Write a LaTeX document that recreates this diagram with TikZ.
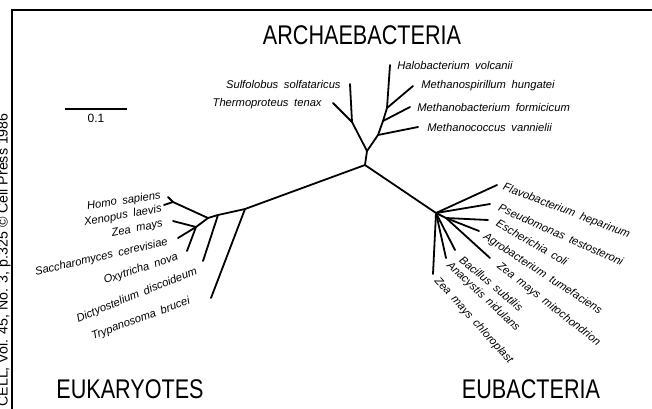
\documentclass[tikz,border=0pt]{standalone}
\usepackage{fontspec}
\setsansfont{Liberation Sans}
\newfontfamily\kingfont{Liberation Sans}[FakeStretch=0.8]
\newfontfamily\spfont{Liberation Sans}[WordSpace=1.8]
\usetikzlibrary{calc}
\tikzset{
  branch/.style={line width=0.9pt, line cap=round, line join=round},
  sp/.style={font=\spfont\itshape\fontsize{5.6}{6}\selectfont, inner sep=0pt},
  kingdom/.style={font=\kingfont\fontsize{13.5}{15}\selectfont, inner sep=0pt}
}

\begin{document}
\begin{tikzpicture}[x=0.5pt,y=-0.5pt]
  \useasboundingbox (0,0) rectangle (652,408);
  \clip (0,0) rectangle (652,408);
  \draw[line width=1pt] (12,412) -- (12,10) -- (660,10);
  \node[rotate=90, anchor=base west, inner sep=0pt, font=\sffamily\fontsize{7.1}{8}\selectfont] (cite) at (7.5,407) {CELL, Vol. 45, No. 3, p.325 \textcopyright\ Cell Press 1986};
  \draw[line width=0.8pt] (65,109) -- (127,109) node[midway, below=2pt, inner sep=0pt, font=\sffamily\fontsize{6}{7}\selectfont] (scale) {0.1};
  \node[kingdom] (arch) at (362,35) {ARCHAEBACTERIA};
  \node[kingdom] (euk) at (130,389) {EUKARYOTES};
  \node[kingdom] (eub) at (531,389) {EUBACTERIA};
  \coordinate (root) at (365,165);
  \coordinate (a0) at (367,151);
  \coordinate (a1) at (352,122);
  \coordinate (a2) at (378,135);
  \coordinate (a3) at (383,121);
  \coordinate (a4) at (387,108);
  \coordinate (sulf) at (350,84);
  \coordinate (therm) at (333,103);
  \coordinate (mcoc) at (418,127);
  \coordinate (mbac) at (410,107);
  \coordinate (mspi) at (413,86);
  \coordinate (halo) at (390,65);
  \coordinate (e1) at (245,209);
  \coordinate (e2) at (218,215);
  \coordinate (e3) at (208,218);
  \coordinate (e4) at (173,202);
  \coordinate (e5) at (196,227);
  \coordinate (homo) at (168,197);
  \coordinate (xeno) at (164,205);
  \coordinate (zea) at (173,221);
  \coordinate (sacc) at (178,238);
  \coordinate (oxy) at (187,251);
  \coordinate (dict) at (203,261);
  \coordinate (tryp) at (211,298);
  \coordinate (b0) at (436,213);
  \coordinate (b1) at (446,218);
  \coordinate (flavo) at (497,185);
  \coordinate (pseudo) at (490,204);
  \coordinate (esch) at (488,220);
  \coordinate (agro) at (479,231);
  \coordinate (zmito) at (490,258);
  \coordinate (bac) at (455,250);
  \coordinate (ana) at (446,258);
  \coordinate (chlo) at (433,274);
  \draw[branch] (root) -- (a0) -- (a1) -- (sulf);
  \draw[branch] (a1) -- (therm);
  \draw[branch] (a0) -- (a2) -- (a3) -- (a4) -- (halo);
  \draw[branch] (a2) -- (mcoc);
  \draw[branch] (a3) -- (mbac);
  \draw[branch] (a4) -- (mspi);
  \draw[branch] (root) -- (e1) -- (e2) -- (e3) -- (e4) -- (homo);
  \draw[branch] (e4) -- (xeno);
  \draw[branch] (e3) -- (e5) -- (zea);
  \foreach \n in {sacc,oxy} \draw[branch] (e5) -- (\n);
  \draw[branch] (e2) -- (dict);
  \draw[branch] (e1) -- (tryp);
  \draw[branch] (root) -- (b0) -- (b1);
  \foreach \n in {flavo,pseudo,bac,ana,chlo} \draw[branch] (b0) -- (\n);
  \foreach \n in {esch,agro,zmito} \draw[branch] (b1) -- (\n);
  \foreach \n/\x/\y/\t in {lhalo/397/65/Halobacterium volcanii, lmspi/421/86/Methanospirillum hungatei, lmbac/417/107/Methanobacterium formicicum, lmcoc/427/127/Methanococcus vannielii}
    \node[sp, anchor=west] (\n) at (\x,\y) {\t};
  \node[sp, anchor=east] (lsulf) at (341,84) {Sulfolobus solfataricus};
  \node[sp, anchor=east] (ltherm) at (322,104) {Thermoproteus tenax};
  \foreach \n/\x/\y/\a/\t in {lhomo/161/196/8/Homo sapiens, lxeno/162/209/10/Xenopus laevis, lzea/163/224/11/Zea mays, lsacc/168/242/13/Saccharomyces cerevisiae, loxy/178/257/18/Oxytricha nova, ldict/197/271/22/Dictyostelium discoideum, ltryp/190/301/20/Trypanosoma brucei}
    \node[sp, anchor=east, rotate=\a] (\n) at (\x,\y) {\t};
  \foreach \n/\x/\y/\a/\t in {lflavo/503/187/-21/Flavobacterium heparinum, lpseudo/499/207/-24/Pseudomonas testosteroni, lesch/497/222/-30/Escherichia coli, lagro/484/236/-33/Agrobacterium tumefaciens, lzmito/498/265/-38/Zea mays mitochondrion, lbac/461/258/-40/Bacillus subtilis, lana/448/264/-43/Anacystis nidulans, lchlo/436/279/-48/Zea mays chloroplast}
    \node[sp, anchor=west, rotate=\a] (\n) at (\x,\y) {\t};
\end{tikzpicture}
\end{document}
